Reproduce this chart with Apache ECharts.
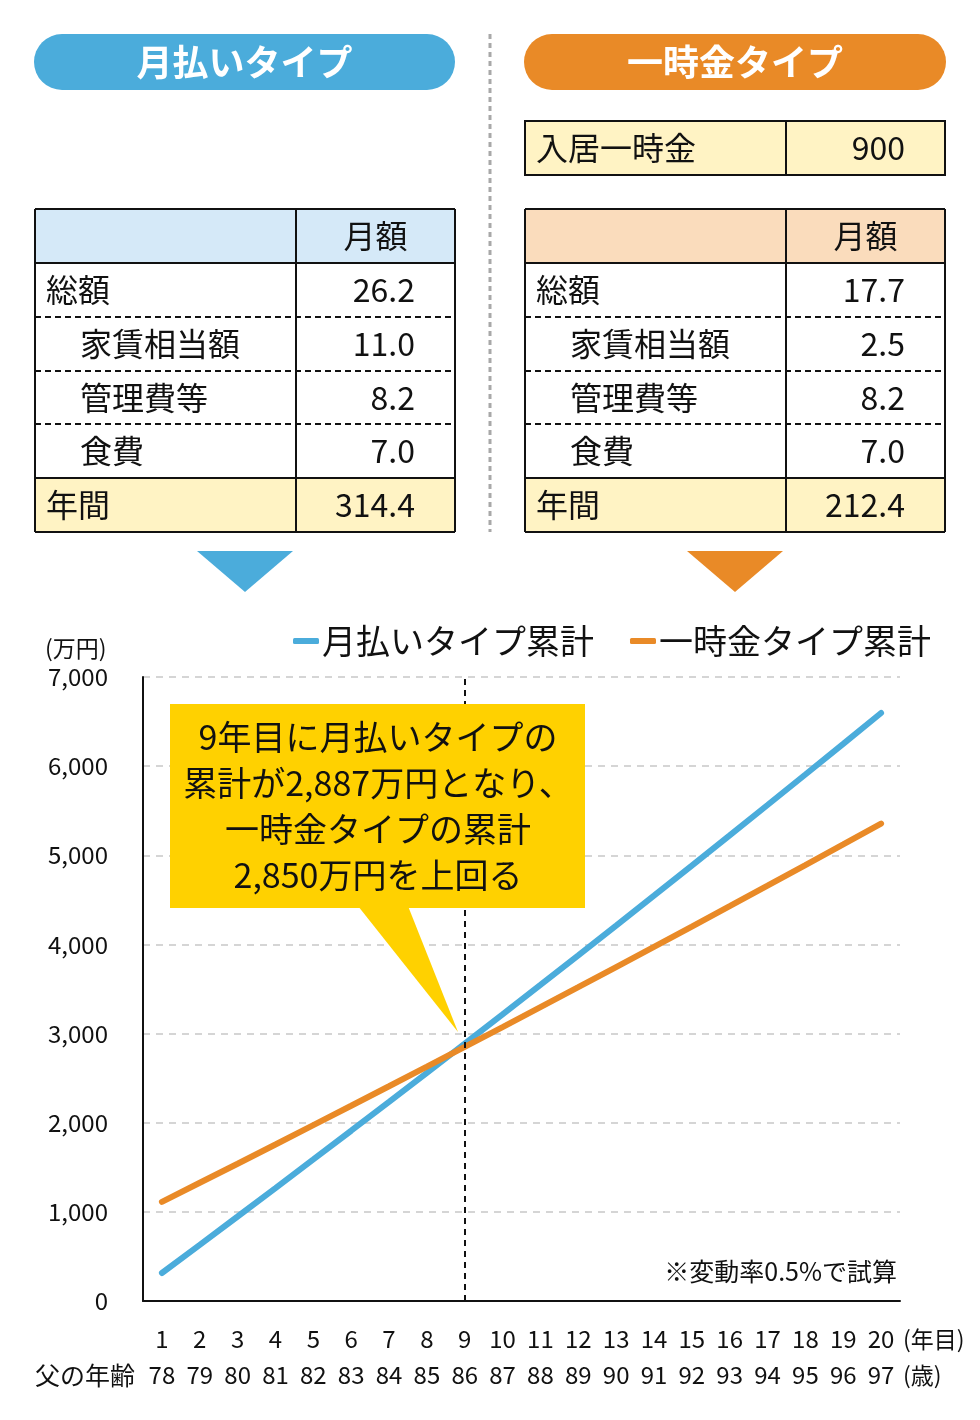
<!DOCTYPE html>
<html>
<head>
<meta charset="utf-8">
<script src="https://cdn.jsdelivr.net/npm/echarts@6/dist/echarts.min.js"></script>
<style>
  html, body { margin: 0; padding: 0; background: #fff; }
  #main { width: 980px; height: 1420px; }
</style>
</head>
<body>
<div id="main"></div>
<script>
// --- data ---
var years = ['1','2','3','4','5','6','7','8','9','10','11','12','13','14','15','16','17','18','19','20'];
var fatherAge = ['78','79','80','81','82','83','84','85','86','87','88','89','90','91','92','93','94','95','96','97'];
var monthlyCum = [314, 630, 948, 1267, 1588, 1910, 2234, 2560, 2887, 3216, 3546, 3878, 4212, 4548, 4885, 5224, 5564, 5906, 6250, 6596];
var lumpCum = [1112, 1326, 1540, 1756, 1973, 2190, 2409, 2629, 2850, 3072, 3296, 3520, 3746, 3972, 4200, 4429, 4659, 4890, 5122, 5356];

var rowLabels = ['総額', '家賃相当額', '管理費等', '食費'];
var rowIndent = [false, true, true, true];
var monthlyVals = ['26.2', '11.0', '8.2', '7.0'];
var monthlyAnnual = '314.4';
var lumpVals = ['17.7', '2.5', '8.2', '7.0'];
var lumpAnnual = '212.4';
var entryFeeLabel = '入居一時金';
var entryFee = '900';

var BLUE = '#4BACDB', ORANGE = '#E98A27';
var FONT = '"Noto Sans CJK JP", "Noto Sans", sans-serif';

var g = [];

function pill(x, w, color, label) {
    g.push({ type: 'rect', shape: { x: x, y: 34, width: w, height: 56, r: 28 }, style: { fill: color } });
    g.push({ type: 'text', x: x + w / 2, y: 62, style: { text: label, fill: '#fff', font: 'bold 36px ' + FONT, align: 'center', verticalAlign: 'middle' } });
}

function hline(x0, x1, y, dashed) {
    g.push({ type: 'line', shape: { x1: x0, y1: y, x2: x1, y2: y },
        style: { stroke: '#111', lineWidth: 2, lineDash: dashed ? [6, 4] : null } });
}
function vline(x, y0, y1) {
    g.push({ type: 'line', shape: { x1: x, y1: y0, x2: x, y2: y1 }, style: { stroke: '#111', lineWidth: 2 } });
}
function cellText(x, y, t, align) {
    g.push({ type: 'text', x: x, y: y, style: { text: t, fill: '#111', font: '32px ' + FONT, align: align, verticalAlign: 'middle' } });
}

function table(x0, x1, x2, headFill, vals, annual) {
    var ys = [209, 263, 317, 371, 424, 478, 532];
    g.push({ type: 'rect', shape: { x: x0, y: ys[0], width: x2 - x0, height: ys[1] - ys[0] }, style: { fill: headFill } });
    g.push({ type: 'rect', shape: { x: x0, y: ys[5], width: x2 - x0, height: ys[6] - ys[5] }, style: { fill: '#FFF3C4' } });
    cellText((x1 + x2) / 2, (ys[0] + ys[1]) / 2, '月額', 'center');
    for (var i = 0; i < rowLabels.length; i++) {
        var cy = (ys[i + 1] + ys[i + 2]) / 2;
        cellText(x0 + (rowIndent[i] ? 45 : 11), cy, rowLabels[i], 'left');
        cellText(x2 - 40, cy, vals[i], 'right');
    }
    cellText(x0 + 11, (ys[5] + ys[6]) / 2, '年間', 'left');
    cellText(x2 - 40, (ys[5] + ys[6]) / 2, annual, 'right');
    hline(x0, x2, ys[0], false);
    hline(x0, x2, ys[1], false);
    hline(x0, x2, ys[2], true);
    hline(x0, x2, ys[3], true);
    hline(x0, x2, ys[4], true);
    hline(x0, x2, ys[5], false);
    hline(x0, x2, ys[6], false);
    vline(x0, ys[0], ys[6]);
    vline(x1, ys[0], ys[6]);
    vline(x2, ys[0], ys[6]);
}

pill(34, 421, BLUE, '月払いタイプ');
pill(524, 422, ORANGE, '一時金タイプ');

// separator
g.push({ type: 'line', shape: { x1: 490, y1: 34, x2: 490, y2: 532 }, style: { stroke: '#A8A8A8', lineWidth: 3, lineDash: [5, 4] } });

// entry fee box
g.push({ type: 'rect', shape: { x: 525, y: 121, width: 420, height: 54 }, style: { fill: '#FFF3C4', stroke: '#111', lineWidth: 2 } });
vline(786, 121, 175);
cellText(536, 148, entryFeeLabel, 'left');
cellText(905, 148, entryFee, 'right');

table(35, 296, 455, '#D5E9F8', monthlyVals, monthlyAnnual);
table(525, 786, 945, '#FADCBC', lumpVals, lumpAnnual);

// arrows
g.push({ type: 'polygon', shape: { points: [[197, 551], [293, 551], [245, 592]] }, style: { fill: BLUE } });
g.push({ type: 'polygon', shape: { points: [[687, 551], [783, 551], [735, 592]] }, style: { fill: ORANGE } });

// axis extras
g.push({ type: 'text', x: 45, y: 648, style: { text: '(万円)', fill: '#111', font: '23px ' + FONT, align: 'left', verticalAlign: 'middle' } });
g.push({ type: 'text', x: 35, y: 1375, style: { text: '父の年齢', fill: '#111', font: '25px ' + FONT, align: 'left', verticalAlign: 'middle' } });
g.push({ type: 'text', x: 903, y: 1339, style: { text: '(年目)', fill: '#111', font: '23px ' + FONT, align: 'left', verticalAlign: 'middle' } });
g.push({ type: 'text', x: 903, y: 1375, style: { text: '(歳)', fill: '#111', font: '23px ' + FONT, align: 'left', verticalAlign: 'middle' } });
g.push({ type: 'text', x: 897, y: 1271, style: { text: '※変動率0.5%で試算', fill: '#111', font: '25px ' + FONT, align: 'right', verticalAlign: 'middle' } });

// callout
g.push({ type: 'polygon', z: 10, shape: { points: [[358, 906], [408, 906], [458, 1032]] }, style: { fill: '#FFD100' } });
g.push({ type: 'rect', z: 10, shape: { x: 170, y: 704, width: 415, height: 204 }, style: { fill: '#FFD100' } });
g.push({ type: 'text', z: 11, x: 378, y: 806, style: {
    text: '9年目に月払いタイプの\n累計が2,887万円となり、\n一時金タイプの累計\n2,850万円を上回る',
    fill: '#111', font: '34px ' + FONT, lineHeight: 46, align: 'center', verticalAlign: 'middle' } });

var chart = echarts.init(document.getElementById('main'));
chart.setOption({
    animation: false,
    textStyle: { fontFamily: FONT },
    grid: { left: 143, right: 80, top: 677, bottom: 119 },
    legend: {
        left: 288, top: 619,
        icon: 'roundRect', itemWidth: 26, itemHeight: 6, itemGap: 36,
        textStyle: { fontSize: 34, color: '#111', padding: [0, 0, 0, -2] },
        data: ['月払いタイプ累計', '一時金タイプ累計']
    },
    xAxis: {
        type: 'category',
        data: years,
        boundaryGap: true,
        axisLine: { lineStyle: { color: '#111', width: 2 } },
        axisTick: { show: false },
        axisLabel: {
            margin: 20, interval: 0,
            formatter: function (v, i) { return '{a|' + v + '}\n{a|' + fatherAge[i] + '}'; },
            rich: { a: { fontSize: 24, lineHeight: 36, color: '#111', fontFamily: FONT } }
        }
    },
    yAxis: {
        type: 'value',
        min: 0, max: 7000, interval: 1000,
        axisLine: { show: true, lineStyle: { color: '#111', width: 2 } },
        axisTick: { show: false },
        axisLabel: {
            margin: 35, fontSize: 24, color: '#111',
            formatter: function (v) { return v.toLocaleString('en-US'); }
        },
        splitLine: { lineStyle: { color: '#C8C8C8', type: [7, 6], width: 1.5 } }
    },
    series: [
        {
            name: '月払いタイプ累計', type: 'line', data: monthlyCum,
            symbol: 'none', smooth: false,
            lineStyle: { color: BLUE, width: 6, cap: 'round' },
            itemStyle: { color: BLUE },
            markLine: {
                silent: true, symbol: 'none', label: { show: false },
                lineStyle: { color: '#111', type: [6, 5], width: 2 },
                data: [{ xAxis: '9' }]
            }
        },
        {
            name: '一時金タイプ累計', type: 'line', data: lumpCum,
            symbol: 'none', smooth: false,
            lineStyle: { color: ORANGE, width: 6, cap: 'round' },
            itemStyle: { color: ORANGE }
        }
    ],
    graphic: g
});
</script>
</body>
</html>
